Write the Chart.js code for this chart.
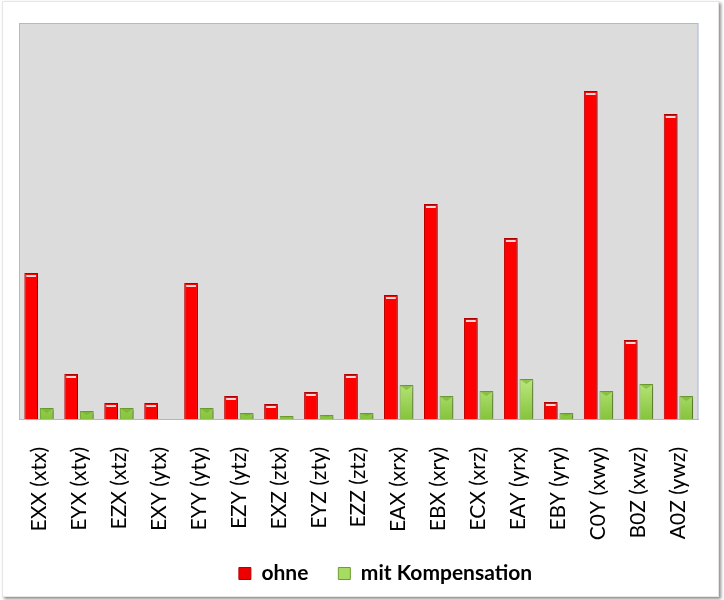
<!DOCTYPE html>
<html>
<head>
<meta charset="utf-8">
<script src="https://cdn.jsdelivr.net/npm/chart.js@4.4.0/dist/chart.umd.min.js"></script>
<style>
    body { margin: 0; background: #fff; }
    #frame { position: absolute; left: 2px; top: 1px; width: 715px; height: 594px; background: #fff; border: 1px solid #e6e6e6; box-shadow: 2px 2px 3px #8c8c8c; }
    #wrap { position: absolute; left: 0; top: 0; width: 724px; height: 600px; }
</style>
</head>
<body>
<div id="frame"></div>
<div id="wrap"><canvas id="chart"></canvas></div>
<script>
const labels = ['EXX (xtx)', 'EYX (xty)', 'EZX (xtz)', 'EXY (ytx)', 'EYY (yty)', 'EZY (ytz)', 'EXZ (ztx)', 'EYZ (zty)', 'EZZ (ztz)',
    'EAX (xrx)', 'EBX (xry)', 'ECX (xrz)', 'EAY (yrx)', 'EBY (yry)', 'C0Y (xwy)', 'B0Z (xwz)', 'A0Z (ywz)'];
const ohne = [146, 45, 16, 16, 136, 23, 15, 27, 45, 124, 215, 101, 181, 17, 328, 79, 305];
const mitKompensation = [11, 8, 11, 0, 11, 6, 3, 4, 6, 34, 23, 28, 40, 6, 28, 35, 23];
const yMax = 396;

// grey plot area with a thin blue frame
const plotBg = {
    id: 'plotBg',
    beforeDraw(chart) {
        const { ctx, chartArea: a } = chart;
        ctx.save();
        ctx.fillStyle = '#dcdcdc';
        ctx.fillRect(a.left, a.top, a.width, a.height);
        ctx.strokeStyle = '#a9b9e0';
        ctx.lineWidth = 1;
        ctx.strokeRect(a.left + 0.5, a.top + 0.5, a.width - 1, a.height);
        ctx.restore();
    }
};

// soft drop shadow behind the bars
const barShadow = {
    id: 'barShadow',
    beforeDatasetDraw(chart) {
        const ctx = chart.ctx;
        ctx.save();
        ctx.shadowColor = 'rgba(0,0,0,0.35)';
        ctx.shadowOffsetX = 3;
        ctx.shadowOffsetY = 1;
        ctx.shadowBlur = 3;
    },
    afterDatasetDraw(chart) {
        chart.ctx.restore();
    }
};

// light bevel on the bar tops
const barTops = {
    id: 'barTops',
    afterDatasetsDraw(chart) {
        const ctx = chart.ctx;
        ctx.save();
        chart.getDatasetMeta(0).data.forEach(bar => {
            const w = bar.width;
            ctx.fillStyle = '#ffd6d6';
            ctx.fillRect(bar.x - w / 2 + 2, bar.y + 2, w - 4, 2);
        });
        chart.getDatasetMeta(1).data.forEach(bar => {
            const w = bar.width, h = bar.base - bar.y;
            if (h < 2) return;
            const d = Math.min(5, h / 2);
            ctx.fillStyle = 'rgba(110,170,40,0.55)';
            ctx.beginPath();
            ctx.moveTo(bar.x - w / 2 + 1, bar.y + 1);
            ctx.lineTo(bar.x, bar.y + d);
            ctx.lineTo(bar.x + w / 2 - 1, bar.y + 1);
            ctx.closePath();
            ctx.fill();
        });
        ctx.restore();
    }
};

// legend sits a little right of centre and tight under the labels
const legendShift = {
    id: 'legendShift',
    afterLayout(chart) {
        const lg = chart.legend;
        if (!lg) return;
        lg.left += 20;
        lg.right += 20;
        lg.top -= 10;
        lg.bottom -= 10;
    }
};

function greenFill(context) {
    const { ctx, chartArea } = context.chart;
    if (!chartArea) return '#9ad35a';
    const g = ctx.createLinearGradient(0, chartArea.bottom - 45, 0, chartArea.bottom);
    g.addColorStop(0, '#c2ec86');
    g.addColorStop(1, '#86c43c');
    return g;
}

new Chart(document.getElementById('chart'), {
    type: 'bar',
    data: {
        labels: labels,
        datasets: [
            { label: 'ohne', data: ohne, backgroundColor: '#ff0000', borderColor: '#b80000', borderWidth: 1,
              categoryPercentage: 0.78, barPercentage: 0.88 },
            { label: 'mit Kompensation', data: mitKompensation, backgroundColor: greenFill, borderColor: '#6f9e30', borderWidth: 1,
              categoryPercentage: 0.78, barPercentage: 0.88 }
        ]
    },
    options: {
        responsive: true,
        maintainAspectRatio: false,
        animation: false,
        layout: { padding: { left: 19, right: 12, top: 23, bottom: -4 } },
        scales: {
            x: {
                grid: { display: false },
                border: { color: '#aab6d2' },
                ticks: { minRotation: 90, maxRotation: 90, padding: 20, color: '#000', font: { family: 'Lato', size: 21 } },
                afterFit: scale => { scale.height = 124; }
            },
            y: { display: false, min: 0, max: yMax }
        },
        plugins: {
            tooltip: { enabled: false },
            legend: {
                position: 'bottom',
                labels: {
                    boxWidth: 12,
                    boxHeight: 12,
                    padding: 30,
                    color: '#000',
                    font: { family: 'Lato', size: 21, weight: 'bold' },
                    generateLabels: () => [
                        { text: 'ohne', fillStyle: '#ee0000', strokeStyle: '#b80000', lineWidth: 1, datasetIndex: 0 },
                        { text: 'mit Kompensation', fillStyle: '#a6dc62', strokeStyle: '#6f9e30', lineWidth: 1, datasetIndex: 1 }
                    ]
                }
            }
        }
    },
    plugins: [plotBg, barShadow, barTops, legendShift]
});
</script>
</body>
</html>
